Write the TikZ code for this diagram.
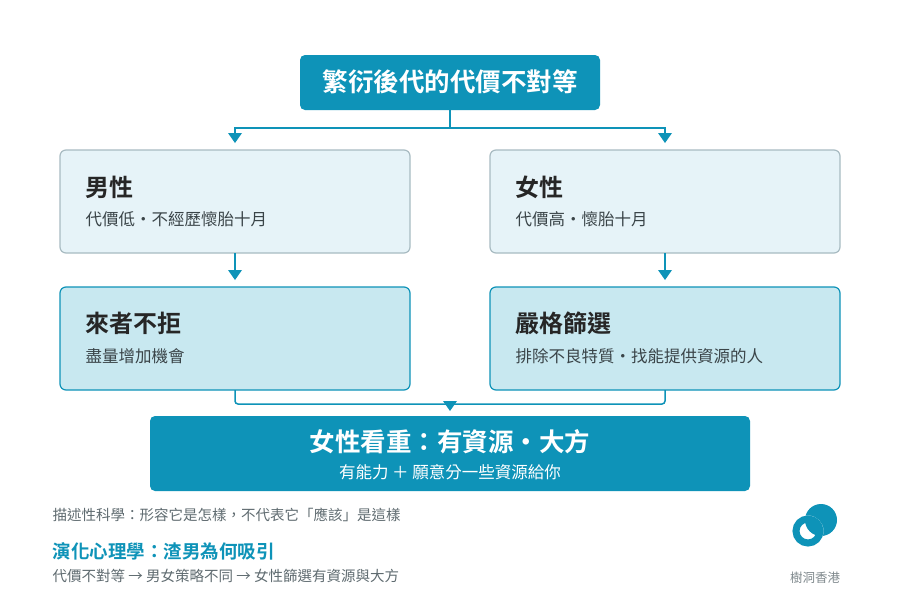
\documentclass[tikz,border=0pt]{standalone}
\usepackage{fontspec}
\setmainfont{Noto Sans CJK TC}[BoldFont={Noto Sans CJK TC Bold}]
\usetikzlibrary{calc}
\definecolor{teal}{HTML}{0E93B8}
\definecolor{paleblue}{HTML}{E6F3F8}
\definecolor{lightblue}{HTML}{C8E8F0}
\definecolor{edgegray}{HTML}{A8BBC2}
\definecolor{inkgray}{HTML}{3A4448}
\definecolor{notegray}{HTML}{5F6B70}
\tikzset{
	headbox/.style = {draw = none, fill = teal, rounded corners = 5pt},
	upperbox/.style = {draw = edgegray, line width = 1.2pt, fill = paleblue, rounded corners = 6pt},
	lowerbox/.style = {draw = teal, line width = 1.2pt, fill = lightblue, rounded corners = 6pt},
	link/.style = {draw = teal, line width = 1.5pt},
	tip/.style = {fill = teal, draw = none},
	title/.style = {anchor = west, font = \bfseries\fontsize{24}{28}\selectfont, text = black!85},
	sub/.style = {anchor = west, font = \fontsize{16.5}{20}\selectfont, text = inkgray},
}
\newcommand{\DownTip}[1]{\fill [tip] ($#1 + (-7,-10)$) -- ($#1 + (7,-10)$) -- #1 -- cycle;}

\begin{document}
\begin{tikzpicture}[x = 1pt, y = -1pt]
	\useasboundingbox [fill = white] (0,0) rectangle (900,600);
	
	% top box
	\draw [headbox] (300,55) rectangle (600,110);
	\node (top) [text = white, font = \bfseries\fontsize{25.5}{30}\selectfont] at (450,82) {繁衍後代的代價不對等};
	
	% boxes
	\draw [upperbox] (60,150) rectangle (410,253);
	\draw [upperbox] (490,150) rectangle (840,253);
	\draw [lowerbox] (60,287) rectangle (410,390);
	\draw [lowerbox] (490,287) rectangle (840,390);
	
	\node (male) [title] at (82,187) {男性};
	\node (malesub) [sub] at (82,219) {代價低・不經歷懷胎十月};
	\node (female) [title] at (512,187) {女性};
	\node (femalesub) [sub] at (512,219) {代價高・懷胎十月};
	\node (accept) [title] at (82,323) {來者不拒};
	\node (acceptsub) [sub] at (82,356) {盡量增加機會};
	\node (select) [title] at (512,323) {嚴格篩選};
	\node (selectsub) [sub] at (512,356) {排除不良特質・找能提供資源的人};
	
	% bottom box
	\draw [headbox] (150,416) rectangle (750,491);
	\node (value) [text = white, font = \bfseries\fontsize{25.5}{30}\selectfont] at (450,442) {女性看重：有資源・大方};
	\node (valuesub) [text = white, font = \fontsize{16.5}{20}\selectfont] at (450,472) {有能力 ＋ 願意分一些資源給你};
	
	% connectors
	\coordinate (split) at (450,110);
	\draw [link] (split) -- (450,128) -- (235,128) -- (235,135);
	\draw [link] (450,128) -- (665,128) -- (665,135);
	\DownTip{(235,143)}
	\DownTip{(665,143)}
	\draw [link] (235,253) -- (235,272);
	\draw [link] (665,253) -- (665,272);
	\DownTip{(235,280)}
	\DownTip{(665,280)}
	\draw [link, rounded corners = 3pt] (235,390) -- (235,404) -- (665,404) -- (665,390);
	\DownTip{(450,411)}
	
	% notes
	\node (note) [anchor = west, text = notegray, font = \fontsize{14.5}{17}\selectfont] at (49,515) {描述性科學：形容它是怎樣，不代表它「應該」是這樣};
	\node (series) [anchor = west, text = teal, font = \bfseries\fontsize{18.5}{22}\selectfont] at (49,551) {演化心理學：渣男為何吸引};
	\node (chain) [anchor = west, text = notegray, font = \fontsize{14.5}{17}\selectfont] at (49,576) {代價不對等 → 男女策略不同 → 女性篩選有資源與大方};
	
	% logo
	\fill [teal] (821,520) circle [radius = 16];
	\draw [white, line width = 3pt] (808,531) circle [radius = 14];
	\draw [teal, line width = 7pt] (808,531) circle [radius = 12];
	\node (brand) [text = notegray!80, font = \fontsize{12.5}{15}\selectfont] at (815,578) {樹洞香港};
\end{tikzpicture}
\end{document}
